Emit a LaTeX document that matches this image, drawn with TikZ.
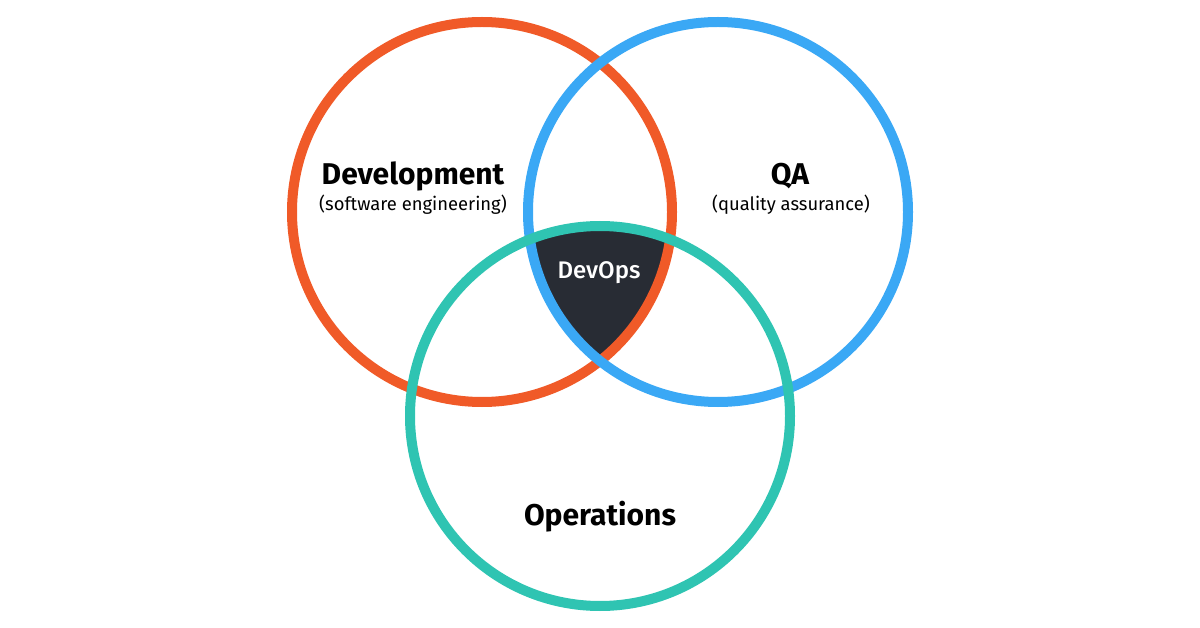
\documentclass[tikz,border=0pt]{standalone}
\usepackage{fontspec}
\setmainfont{Fira Sans}
\newfontfamily\devopsfont{Fira Sans Medium}
\definecolor{devorange}{HTML}{F05A28}
\definecolor{qablue}{HTML}{3AA8F5}
\definecolor{opsteal}{HTML}{2FC4B2}
\definecolor{devopsdark}{HTML}{282C34}

\begin{document}
\begin{tikzpicture}
	[x=1pt,y=-1pt,
	ring/.style={line width=10pt},
	title/.style={anchor=base,font=\bfseries\fontsize{30}{36}\selectfont},
	subtitle/.style={anchor=base,font=\fontsize{18.4}{22}\selectfont}]

	\useasboundingbox (0,0) rectangle (1200,628);

	%Centres
	\coordinate (dev) at (482,212);
	\coordinate (qa) at (718,212);
	\coordinate (ops) at (600,416);

	%DevOps
	\begin{scope}
		\clip (dev) circle (190);
		\clip (qa) circle (190);
		\fill[devopsdark] (ops) circle (190);
	\end{scope}

	%Rings
	\draw[ring,devorange] (dev) circle (190);
	\draw[ring,qablue] (qa) circle (190);
	\draw[ring,opsteal] (ops) circle (190);

	%Labels
	\node[title] (devtitle) at (413,185) {Development};
	\node[subtitle] (devsub) at (413,211) {(software engineering)};
	\node[title] (qatitle) at (790,185) {QA};
	\node[subtitle] (qasub) at (791,211) {(quality assurance)};
	\node[anchor=base,white,font=\devopsfont\fontsize{24}{28}\selectfont] (devops) at (599,279) {DevOps};
	\node[title] (opstitle) at (600,525) {Operations};
\end{tikzpicture}
\end{document}
